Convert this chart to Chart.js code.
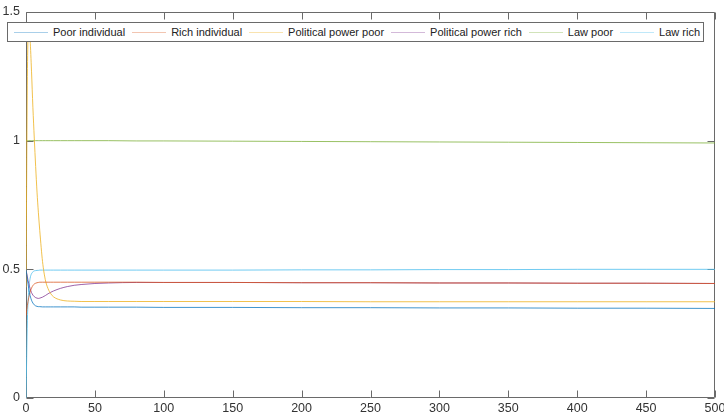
<!DOCTYPE html>
<html>
<head>
<meta charset="utf-8">
<script src="https://cdn.jsdelivr.net/npm/chart.js@4/dist/chart.umd.min.js"></script>
<style>
  html, body { margin: 0; padding: 0; background: #fff; }
  #wrap { position: relative; width: 724px; height: 415px; }
  #legend {
    position: absolute; left: 7px; top: 22px; height: 18px;
    display: flex; align-items: center;
    border: 1px solid #6a6a6a; background: #fff;
    padding: 0 3px 0 6px;
    font-family: "Liberation Sans", Arial, Helvetica, sans-serif;
    font-size: 11px; color: #222; white-space: nowrap;
  }
  #legend .item { display: flex; align-items: center; margin-right: 7px; }
  #legend .item:last-child { margin-right: 0; }
  #legend .swatch { width: 34px; height: 1px; margin-right: 5px; opacity: 0.45; }
</style>
</head>
<body>
<div id="wrap">
  <canvas id="c" width="724" height="415"></canvas>
  <div id="legend"></div>
</div>
<script>
// Simulation time steps
const times = [0, 1, 2, 3, 4, 5, 6, 7, 8, 9, 10, 12, 14, 16, 18, 20, 25, 30, 35, 40,
               50, 60, 80, 100, 150, 200, 250, 300, 350, 400, 450, 500];

// Series values at each time step
const poorIndividual = [0.500, 0.460, 0.425, 0.398, 0.380, 0.369, 0.362, 0.358, 0.356, 0.355, 0.355, 0.354, 0.354, 0.354, 0.354, 0.354, 0.354, 0.354, 0.354, 0.353,
                        0.353, 0.353, 0.353, 0.352, 0.352, 0.351, 0.351, 0.350, 0.350, 0.349, 0.349, 0.348];
const richIndividual = [0.320, 0.360, 0.390, 0.412, 0.427, 0.437, 0.443, 0.446, 0.448, 0.449, 0.450, 0.450, 0.450, 0.450, 0.450, 0.450, 0.450, 0.450, 0.450, 0.450,
                        0.450, 0.450, 0.450, 0.449, 0.449, 0.448, 0.448, 0.447, 0.447, 0.446, 0.446, 0.445];
const powerPoor      = [0.430, 1.250, 1.450, 1.390, 1.270, 1.130, 1.010, 0.900, 0.800, 0.720, 0.650, 0.530, 0.460, 0.425, 0.405, 0.393, 0.381, 0.377, 0.376, 0.375,
                        0.375, 0.375, 0.375, 0.375, 0.375, 0.375, 0.374, 0.374, 0.374, 0.374, 0.374, 0.374];
const powerRich      = [0.500, 0.470, 0.445, 0.425, 0.410, 0.400, 0.394, 0.390, 0.388, 0.387, 0.388, 0.392, 0.398, 0.405, 0.411, 0.416, 0.426, 0.433, 0.438, 0.441,
                        0.445, 0.447, 0.449, 0.449, 0.449, 0.448, 0.448, 0.447, 0.447, 0.446, 0.446, 0.445];
const lawPoor        = [1.000, 1.000, 1.000, 1.000, 1.000, 1.000, 1.000, 1.000, 1.000, 1.000, 1.000, 1.000, 1.000, 1.000, 1.000, 1.000, 1.000, 1.000, 1.000, 1.000,
                        1.000, 1.000, 0.999, 0.999, 0.998, 0.997, 0.996, 0.995, 0.994, 0.993, 0.992, 0.991];
const lawRich        = [0.000, 0.300, 0.420, 0.465, 0.483, 0.490, 0.494, 0.495, 0.496, 0.496, 0.497, 0.497, 0.497, 0.497, 0.497, 0.497, 0.497, 0.497, 0.497, 0.497,
                        0.497, 0.497, 0.497, 0.497, 0.497, 0.498, 0.498, 0.499, 0.499, 0.500, 0.500, 0.500];

// Tick values for both axes
const xTicks = [0, 50, 100, 150, 200, 250, 300, 350, 400, 450, 500];
const yTicks = [0, 0.5, 1, 1.5];

const seriesNames = ['Poor individual', 'Rich individual', 'Political power poor',
                     'Political power rich', 'Law poor', 'Law rich'];
const seriesValues = [poorIndividual, richIndividual, powerPoor, powerRich, lawPoor, lawRich];
const seriesColors = ['rgba(0,114,189,0.75)', 'rgba(217,83,25,0.75)', 'rgba(237,177,32,0.8)',
                      'rgba(126,47,142,0.75)', 'rgba(119,172,48,0.75)', 'rgba(77,190,238,0.8)'];

const datasets = seriesNames.map((name, i) => ({
  label: name,
  data: times.map((t, k) => ({ x: t, y: seriesValues[i][k] })),
  borderColor: seriesColors[i],
  backgroundColor: seriesColors[i],
  borderWidth: 1,
  pointRadius: 0,
  fill: false,
  cubicInterpolationMode: 'monotone'
}));

const FONT = '"Liberation Sans", Arial, Helvetica, sans-serif';
const AXIS_COLOR = '#6a6a6a';
const TICK_LEN = 7;

// Boxed axes with inward ticks on all four sides
const axesBox = {
  id: 'axesBox',
  beforeDatasetsDraw(chart) {
    const { ctx, chartArea: a, scales: { x, y } } = chart;
    const L = Math.round(a.left) + 0.5, R = Math.round(a.right) - 0.5;
    const T = Math.round(a.top) + 0.5, B = Math.round(a.bottom) - 0.5;
    ctx.save();
    ctx.strokeStyle = AXIS_COLOR;
    ctx.lineWidth = 1;
    ctx.beginPath();
    ctx.rect(L, T, R - L, B - T);
    xTicks.forEach(v => {
      const px = Math.round(x.getPixelForValue(v)) + 0.5;
      ctx.moveTo(px, B); ctx.lineTo(px, B - TICK_LEN);
      ctx.moveTo(px, T); ctx.lineTo(px, T + TICK_LEN);
    });
    yTicks.forEach(v => {
      const py = Math.round(y.getPixelForValue(v)) + 0.5;
      ctx.moveTo(L, py); ctx.lineTo(L + TICK_LEN, py);
      ctx.moveTo(R, py); ctx.lineTo(R - TICK_LEN, py);
    });
    ctx.stroke();
    ctx.restore();
  }
};

new Chart(document.getElementById('c'), {
  type: 'line',
  data: { datasets },
  options: {
    responsive: false,
    animation: false,
    devicePixelRatio: 1,
    layout: { padding: { top: 12, right: 9, left: 0, bottom: 0 } },
    plugins: { legend: { display: false }, tooltip: { enabled: false } },
    scales: {
      x: {
        type: 'linear', min: 0, max: 500,
        grid: { display: false, drawTicks: false }, border: { display: false },
        afterBuildTicks: s => { s.ticks = xTicks.map(v => ({ value: v })); },
        afterFit: s => { s.height = 17; s.paddingLeft = 0; s.paddingRight = 0; },
        ticks: { autoSkip: false, maxRotation: 0, padding: 3, color: '#333',
                 font: { family: FONT, size: 12.5 }, callback: v => String(v) }
      },
      y: {
        type: 'linear', min: 0, max: 1.5,
        grid: { display: false, drawTicks: false }, border: { display: false },
        afterBuildTicks: s => { s.ticks = yTicks.map(v => ({ value: v })); },
        afterFit: s => { s.width = 26; s.paddingTop = 0; s.paddingBottom = 0; },
        ticks: { padding: 6, color: '#333', font: { family: FONT, size: 12.5 },
                 callback: v => String(v) }
      }
    }
  },
  plugins: [axesBox]
});

// Legend box inside the axes
const legend = document.getElementById('legend');
seriesNames.forEach((name, i) => {
  const item = document.createElement('div');
  item.className = 'item';
  const sw = document.createElement('span');
  sw.className = 'swatch';
  sw.style.background = seriesColors[i];
  const txt = document.createElement('span');
  txt.textContent = name;
  item.appendChild(sw);
  item.appendChild(txt);
  legend.appendChild(item);
});
</script>
</body>
</html>
